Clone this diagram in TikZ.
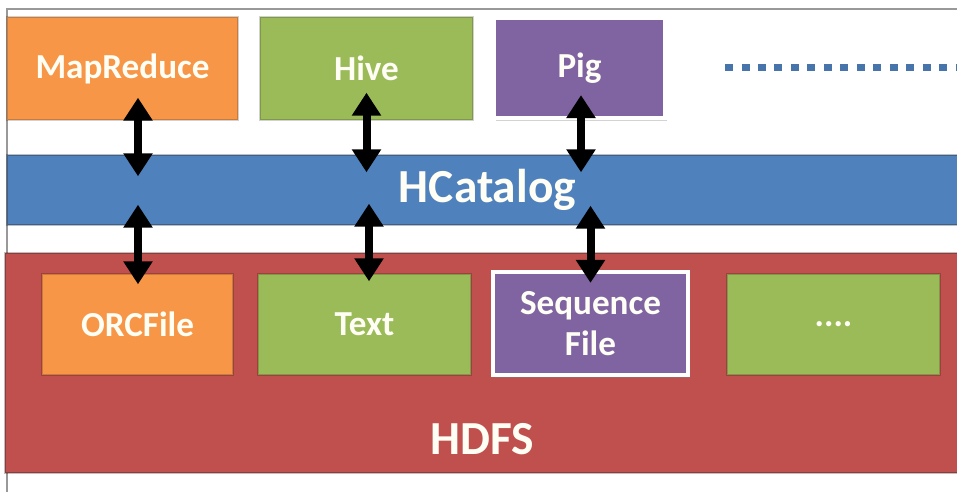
\documentclass[tikz,border=0pt]{standalone}
\usepackage{fontspec}
\setmainfont{Carlito}
\usetikzlibrary{arrows.meta,calc,shadows}
\definecolor{mrorange}{HTML}{F79646}
\definecolor{hivegreen}{HTML}{9BBB59}
\definecolor{pigpurple}{HTML}{8064A2}
\definecolor{catblue}{HTML}{4F81BD}
\definecolor{hdfsred}{HTML}{C0504D}
\tikzstyle{box}=[draw=black, draw opacity=.18, line width=.8pt, text=white!96!yellow, align=center,
  font=\fontsize{20}{23}\selectfont\bfseries, minimum height=2.02cm]
\tikzstyle{framed}=[draw=white, draw opacity=1, line width=2.4pt,
  drop shadow={opacity=.35, shadow xshift=1pt, shadow yshift=-1.5pt}]
\tikzstyle{band}=[draw=black, draw opacity=.25, line width=.8pt, text=white!96!yellow,
  font=\fontsize{27}{32}\selectfont\bfseries]
\tikzstyle{link}=[{Triangle[length=.46cm,width=.56cm]}-{Triangle[length=.46cm,width=.56cm]},
  line width=.16cm]
\tikzstyle{moredots}=[catblue!90!black, line width=.14cm, dash pattern=on .16cm off .17cm]

\begin{document}
\begin{tikzpicture}[x=0.02cm, y=-0.02cm]
  \useasboundingbox (0,0) rectangle (957,492);
  \draw[black!40, line width=.8pt] (7,492) -- (7,9) -- (957,9);

  \node[band, fill=hdfsred, minimum width=19.5cm, minimum height=4.4cm] (hdfs) at (492.5,363) {};
  \node[band, draw=none] (hdfslabel) at ($(hdfs.south)+(-10,-35)$) {HDFS};
  \node[band, fill=catblue, minimum width=19.5cm, minimum height=1.4cm] (hcat) at (494.5,190) {};
  \node[band, draw=none] (hcatlabel) at ($(hcat.center)+(-7,0)$) {HCatalog};

  \node[box, fill=mrorange, minimum width=4.62cm, minimum height=2.06cm] (mapreduce) at (122.5,68.5) {MapReduce};
  \node[box, fill=hivegreen, minimum width=4.26cm, minimum height=2.06cm] (hive) at (366.5,68.5) {Hive};
  \node[box, framed, fill=pigpurple, minimum width=3.42cm, minimum height=2cm] (pig) at (579.5,68) {Pig};

  \node[box, fill=mrorange, minimum width=3.82cm] (orc) at (137.5,324.5) {ORCFile};
  \node[box, fill=hivegreen, minimum width=4.26cm] (text) at (364.5,324.5) {Text};
  \node[box, framed, fill=pigpurple, minimum width=3.9cm, minimum height=2.06cm] (seq) at (590.5,323.5) {Sequence\\File};
  \node[box, fill=hivegreen, minimum width=4.26cm] (dots) at (833.5,324.5) {....};

  \coordinate (more) at (725,68);
  \coordinate (moreend) at (965,68);
  \draw[moredots] (more) -- (moreend);

  \draw[link] ($(mapreduce.south)+(15.5,-23)$) -- ($(hcat.north -| mapreduce.south)+(15.5,22)$);
  \draw[link] ($(hive.south)+(0,-28)$) -- ($(hcat.north -| hive.south)+(0,18)$);
  \draw[link] ($(pig.south)+(1.5,-25)$) -- ($(hcat.north -| pig.south)+(1.5,18)$);

  \draw[link] ($(hcat.south -| orc.north)+(0.5,-21)$) -- ($(orc.north)+(0.5,11)$);
  \draw[link] ($(hcat.south -| text.north)+(4.5,-22)$) -- ($(text.north)+(4.5,8)$);
  \draw[link] ($(hcat.south -| seq.north)+(0,-20)$) -- ($(seq.north)+(0,13)$);
\end{tikzpicture}
\end{document}
